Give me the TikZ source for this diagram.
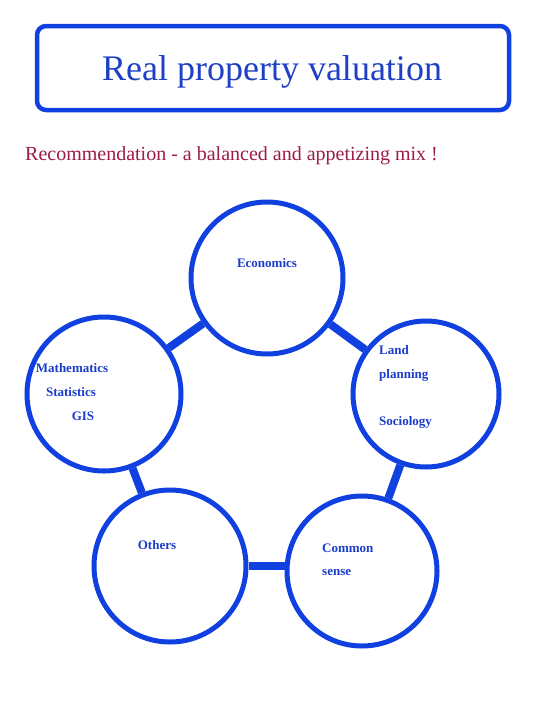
\documentclass[tikz,border=0pt]{standalone}
\usepackage{fontspec}
\setmainfont{Liberation Serif}
\definecolor{titleblue}{HTML}{1F40C4}
\definecolor{ringblue}{HTML}{1040E0}
\definecolor{textblue}{HTML}{1A3CCB}
\definecolor{subred}{HTML}{9B1C45}
\begin{document}
\begin{tikzpicture}[x=1pt,y=-1pt,
  ring/.style={circle,draw=ringblue,line width=5pt,minimum size=#1,inner sep=0pt},
  link/.style={draw=ringblue,line width=8pt},
  lbl/.style={text=textblue,font=\fontsize{13}{15}\selectfont\bfseries,inner sep=0pt},
  lblw/.style={lbl,anchor=west}]
\useasboundingbox (0,0) rectangle (540,720);
\node[draw=ringblue,line width=4.5pt,rounded corners=9pt,minimum width=472pt,minimum height=84pt,inner sep=0pt] (title) at (273,68) {};
\node[text=titleblue,font=\fontsize{36}{40}\selectfont] (tt) at (272,72) {Real property valuation};
\node[text=subred,font=\fontsize{20}{24}\selectfont,anchor=west,inner sep=0pt] (sub) at (25,156) {Recommendation - a balanced and appetizing mix !};
\node[ring=152pt] (eco) at (267,278) {};
\node[ring=154pt] (mat) at (104,394) {};
\node[ring=146pt] (land) at (426,394) {};
\node[ring=152pt] (oth) at (170,566) {};
\node[ring=150pt] (com) at (362,571) {};
\draw[link] (eco) -- (mat);
\draw[link] (eco) -- (land);
\draw[link] (mat) -- (oth);
\draw[link] (land) -- (com);
\draw[link] (oth.east) -- (oth.east -| com.west);
\node[lbl] (teco) at (267,263) {Economics};
\node[lbl] (tmat1) at (72,368) {Mathematics};
\node[lbl] (tmat2) at (71,392) {Statistics};
\node[lbl] (tmat3) at (83,416) {GIS};
\node[lblw] (tland1) at (379,350) {Land};
\node[lblw] (tland2) at (379,375) {planning};
\node[lblw] (tland3) at (379,422) {Sociology};
\node[lbl] (toth) at (157,545) {Others};
\node[lblw] (tcom1) at (322,548) {Common};
\node[lblw] (tcom2) at (322,572) {sense};
\end{tikzpicture}
\end{document}
